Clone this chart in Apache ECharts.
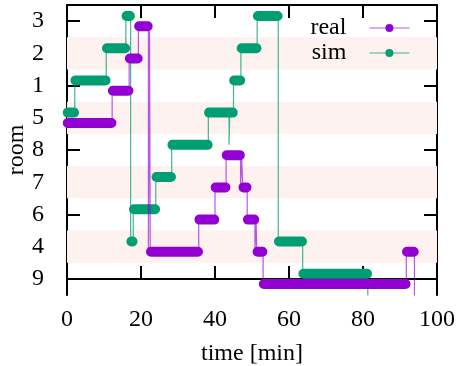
<!DOCTYPE html>
<html>
<head>
<meta charset="utf-8">
<script src="https://cdn.jsdelivr.net/npm/echarts@6/dist/echarts.min.js"></script>
<style>html,body{margin:0;padding:0;background:#fff}#c{width:456px;height:366px}</style>
</head>
<body>
<div id="c"></div>
<script>
// Room categories from bottom to top
const roomLabels = ['9', '4', '6', '7', '8', '5', '1', '2', '3'];
const xTicks = [0, 20, 40, 60, 80, 100];

// real: times (min) at which the room changes, and the room entered
const realTimes = [0, 12.2, 16.8, 19.3, 22.0, 22.3, 22.5, 35.6, 40.0, 43.0, 46.9, 47.2, 47.5, 48.7, 50.8, 51.1, 51.3, 53.0, 91.7];
const realRooms = ['5', '1', '2', '3', '4', '3', '4', '6', '7', '8', '7', '8', '7', '6', '4', '6', '4', '9', '4'];
const realEnd = 93.9;

// sim
const simTimes = [0, 2.1, 10.6, 15.9, 17.2, 17.9, 24.0, 28.3, 38.2, 43.8, 44.0, 45.0, 47.0, 51.4, 57.1, 63.7];
const simRooms = ['5', '1', '2', '3', '4', '6', '7', '8', '5', '8', '5', '1', '2', '3', '4', '9'];
const simEnd = 81.3;

const bandRooms = ['4', '7', '5', '2'];

const FONT = 'Liberation Serif';
const PURPLE = '#9400d3';
const GREEN = '#009e73';

function thinPath(times, rooms, end, off) {
  const pts = [];
  for (let i = 0; i < times.length; i++) {
    const y = roomLabels.indexOf(rooms[i]) + off;
    const tNext = i + 1 < times.length ? times[i + 1] : end;
    pts.push([times[i], y]);
    pts.push([tNext, y]);
  }
  pts.push([end, -2]);
  return pts;
}
function thickBars(times, rooms, end, off) {
  const pts = [];
  for (let i = 0; i < times.length; i++) {
    const y = roomLabels.indexOf(rooms[i]) + off;
    const a = times[i];
    const b = i + 1 < times.length ? times[i + 1] : end;
    const d = Math.min(0.2, (b - a) * 0.45);
    pts.push([a + d, y]);
    pts.push([b - d, y]);
    pts.push(['-', '-']);
  }
  return pts;
}

const bands = bandRooms.map(r => {
  const i = roomLabels.indexOf(r);
  return [{ yAxis: i - 0.5, xAxis: 0 }, { yAxis: i + 0.5, xAxis: 100 }];
});

const chart = echarts.init(document.getElementById('c'), null, { renderer: 'canvas' });
const axisFont = { fontFamily: FONT, fontSize: 24, color: '#000' };
chart.setOption({
  animation: false,
  backgroundColor: '#fff',
  grid: { left: 67, right: 19, top: 5, bottom: 71, containLabel: false, outerBoundsMode: 'none' },
  legend: {
    data: ['real', 'sim'],
    orient: 'vertical',
    align: 'right',
    right: 41,
    top: 11,
    itemWidth: 40,
    itemHeight: 10,
    itemGap: 1,
    formatter: n => n + '\u00a0\u00a0\u00a0',
    textStyle: { fontFamily: FONT, fontSize: 24, color: '#000', lineHeight: 22 },
    lineStyle: { width: 1.2 }
  },
  xAxis: [
    {
      type: 'value', position: 'bottom', min: 0, max: 100, interval: 20,
      name: 'time [min]', nameLocation: 'middle', nameGap: 47,
      nameTextStyle: axisFont,
      axisLine: { show: true, lineStyle: { color: '#000', width: 2 } },
      axisTick: { show: true, inside: true, length: 13, lineStyle: { color: '#000', width: 2 } },
      axisLabel: Object.assign({ margin: 13, formatter: v => xTicks.includes(v) ? String(v) : '' }, axisFont),
      splitLine: { show: false }
    },
    {
      type: 'value', position: 'top', min: 0, max: 100, interval: 20,
      axisLine: { show: true, lineStyle: { color: '#000', width: 2 } },
      axisTick: { show: true, inside: true, length: 13, lineStyle: { color: '#000', width: 2 } },
      axisLabel: { show: false },
      splitLine: { show: false }
    }
  ],
  yAxis: [
    { type: 'value', min: -0.5, max: 8.5, show: false, splitLine: { show: false } },
    {
      type: 'category', position: 'left', data: roomLabels, boundaryGap: true,
      name: 'room', nameLocation: 'middle', nameRotate: 90, nameGap: 38, nameMoveOverlap: false,
      nameTextStyle: axisFont,
      axisLine: { show: true, lineStyle: { color: '#000', width: 2 } },
      axisTick: { show: true, inside: true, alignWithLabel: true, interval: 0, length: 13, lineStyle: { color: '#000', width: 2 } },
      axisLabel: Object.assign({ margin: 23, interval: 0 }, axisFont),
      splitLine: { show: false }
    },
    {
      type: 'category', position: 'right', data: roomLabels, boundaryGap: true,
      axisLine: { show: true, lineStyle: { color: '#000', width: 2 } },
      axisTick: { show: true, inside: true, alignWithLabel: true, interval: 0, length: 13, lineStyle: { color: '#000', width: 2 } },
      axisLabel: { show: false },
      splitLine: { show: false }
    }
  ],
  series: [
    {
      type: 'line', name: 'bands', data: [], xAxisIndex: 0, yAxisIndex: 0, z: 1,
      markArea: { silent: true, itemStyle: { color: '#fdf2f0' }, data: bands }
    },
    {
      type: 'line', name: 'sim', xAxisIndex: 0, yAxisIndex: 0, z: 2,
      data: thinPath(simTimes, simRooms, simEnd, 0.16),
      symbol: 'circle', symbolSize: 10, showSymbol: false,
      itemStyle: { color: GREEN },
      lineStyle: { color: GREEN, width: 1.2, opacity: 0.75 }
    },
    {
      type: 'line', name: 'sim', xAxisIndex: 0, yAxisIndex: 0, z: 3,
      data: thickBars(simTimes, simRooms, simEnd, 0.16),
      symbol: 'circle', showSymbol: false, connectNulls: false,
      itemStyle: { color: GREEN },
      lineStyle: { color: GREEN, width: 10, cap: 'round', join: 'round' }
    },
    {
      type: 'line', name: 'real', xAxisIndex: 0, yAxisIndex: 0, z: 4,
      data: thinPath(realTimes, realRooms, realEnd, -0.16),
      symbol: 'circle', symbolSize: 10, showSymbol: false,
      itemStyle: { color: PURPLE },
      lineStyle: { color: PURPLE, width: 1.2, opacity: 0.65 }
    },
    {
      type: 'line', name: 'real', xAxisIndex: 0, yAxisIndex: 0, z: 5,
      data: thickBars(realTimes, realRooms, realEnd, -0.16),
      symbol: 'circle', showSymbol: false, connectNulls: false,
      itemStyle: { color: PURPLE },
      lineStyle: { color: PURPLE, width: 10, cap: 'round', join: 'round' }
    }
  ]
});
</script>
</body>
</html>
